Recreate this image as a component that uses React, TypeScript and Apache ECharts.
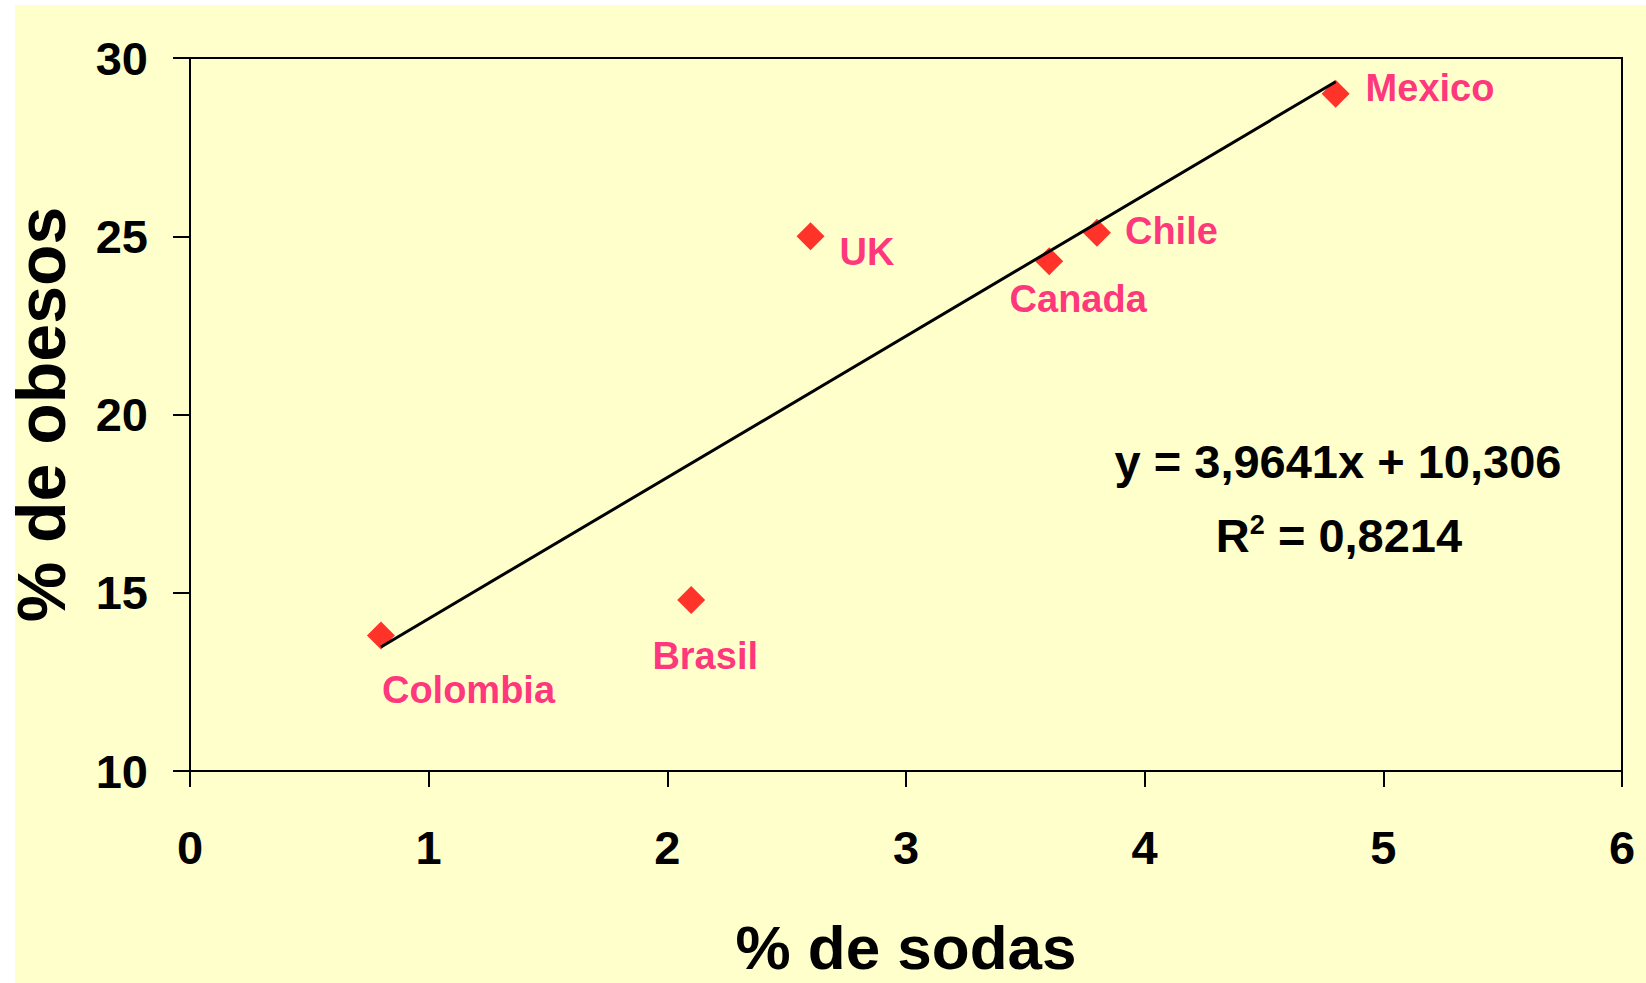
import React, { useEffect, useRef } from "react";
import * as echarts from "echarts";

// ---- data ----
const countries = ["Colombia", "Brasil", "UK", "Canada", "Chile", "Mexico"];
const sodas = [0.8, 2.1, 2.6, 3.6, 3.8, 4.8];
const obesos = [13.8, 14.8, 25.0, 24.3, 25.1, 29.0];

const xTitle = "% de sodas";
const yTitle = "% de obesos";
const equationLine1 = "y = 3,9641x + 10,306";
const equationR2Value = " = 0,8214";

// ---- label placement (style only) ----
const labelPlacement = [
  { align: "left", offset: [1, 54] },
  { align: "center", offset: [14, 56] },
  { align: "left", offset: [29, 16] },
  { align: "center", offset: [29, 38] },
  { align: "left", offset: [28, -2] },
  { align: "left", offset: [30, -6] },
];

const FONT = "'Liberation Sans', Arial, sans-serif";

function regression(xs: number[], ys: number[]) {
  const n = xs.length;
  const mx = xs.reduce((a, b) => a + b, 0) / n;
  const my = ys.reduce((a, b) => a + b, 0) / n;
  let sxy = 0;
  let sxx = 0;
  for (let i = 0; i < n; i++) {
    sxy += (xs[i] - mx) * (ys[i] - my);
    sxx += (xs[i] - mx) * (xs[i] - mx);
  }
  const slope = sxy / sxx;
  return { slope, intercept: my - slope * mx };
}

export default function App() {
  const ref = useRef<HTMLDivElement>(null);

  useEffect(() => {
    if (!ref.current) return;
    const chart = echarts.init(ref.current, undefined, { renderer: "svg" });
    const { slope, intercept } = regression(sodas, obesos);
    const xMin = Math.min(...sodas);
    const xMax = Math.max(...sodas);
    const trend = [
      [xMin, slope * xMin + intercept],
      [xMax, slope * xMax + intercept],
    ];

    const scatterData = countries.map((c, i) => ({
      name: c,
      value: [sodas[i], obesos[i]],
      label: {
        show: true,
        formatter: c,
        position: "inside",
        align: labelPlacement[i].align,
        verticalAlign: "middle",
        offset: labelPlacement[i].offset,
      },
    }));

    chart.setOption({
      animation: false,
      backgroundColor: "#ffffff",
      textStyle: { fontFamily: FONT },
      graphic: [
        {
          type: "rect",
          z: -10,
          silent: true,
          shape: { x: 15, y: 5, width: 1646 - 15, height: 983 - 5 },
          style: { fill: "#FFFFCC" },
        },
        {
          type: "text",
          x: 1338,
          y: 461,
          z: 10,
          style: {
            text: equationLine1,
            fontFamily: FONT,
            fontWeight: "bold",
            fontSize: 47,
            fill: "#000",
            align: "center",
            verticalAlign: "middle",
          },
        },
        {
          type: "text",
          x: 1339,
          y: 535,
          z: 10,
          style: {
            text: "{a|R}{s|2}{a|" + equationR2Value + "}",
            fontFamily: FONT,
            fontWeight: "bold",
            fontSize: 47,
            fill: "#000",
            align: "center",
            verticalAlign: "middle",
            rich: {
              a: { fontSize: 47, fontWeight: "bold", fontFamily: FONT, fill: "#000" },
              s: {
                fontSize: 27,
                fontWeight: "bold",
                fontFamily: FONT,
                fill: "#000",
                verticalAlign: "top",
              },
            },
          },
        },
      ],
      grid: {
        left: 190,
        top: 58,
        right: 24,
        bottom: 212,
        outerBoundsMode: "none",
        containLabel: false,
        show: true,
        borderColor: "#000",
        borderWidth: 2,
        backgroundColor: "transparent",
      },
      xAxis: {
        type: "value",
        min: 0,
        max: 6,
        interval: 1,
        name: xTitle,
        nameLocation: "middle",
        nameGap: 145,
        nameTextStyle: { fontSize: 62, fontWeight: "bold", color: "#000", fontFamily: FONT },
        axisLine: { show: true, onZero: false, lineStyle: { color: "#000", width: 2 } },
        axisTick: { show: true, length: 16, lineStyle: { color: "#000", width: 2 } },
        axisLabel: { fontSize: 47, fontWeight: "bold", color: "#000", margin: 53, fontFamily: FONT },
        splitLine: { show: false },
      },
      yAxis: {
        type: "value",
        min: 10,
        max: 30,
        interval: 5,
        name: yTitle,
        nameLocation: "middle",
        nameRotate: 90,
        nameGap: 115,
        nameTextStyle: {
          fontSize: 68,
          fontWeight: "bold",
          color: "#000",
          fontFamily: FONT,
        },
        axisLine: { show: true, onZero: false, lineStyle: { color: "#000", width: 2 } },
        axisTick: { show: true, length: 17, lineStyle: { color: "#000", width: 2 } },
        axisLabel: { fontSize: 47, fontWeight: "bold", color: "#000", margin: 42, fontFamily: FONT },
        splitLine: { show: false },
      },
      series: [
        {
          type: "scatter",
          symbol: "diamond",
          symbolSize: 28,
          itemStyle: { color: "#FF0000" },
          label: {
            fontSize: 38,
            fontWeight: "bold",
            color: "#FF0066",
            fontFamily: FONT,
          },
          data: scatterData,
          z: 2,
        },
        {
          type: "line",
          data: trend,
          symbol: "none",
          silent: true,
          lineStyle: { color: "#000", width: 3 },
          z: 3,
        },
      ],
    });
    return () => chart.dispose();
  }, []);

  return (
    <div
      ref={ref}
      style={{ position: "absolute", left: 0, top: 0, width: 1646, height: 983 }}
    />
  );
}
